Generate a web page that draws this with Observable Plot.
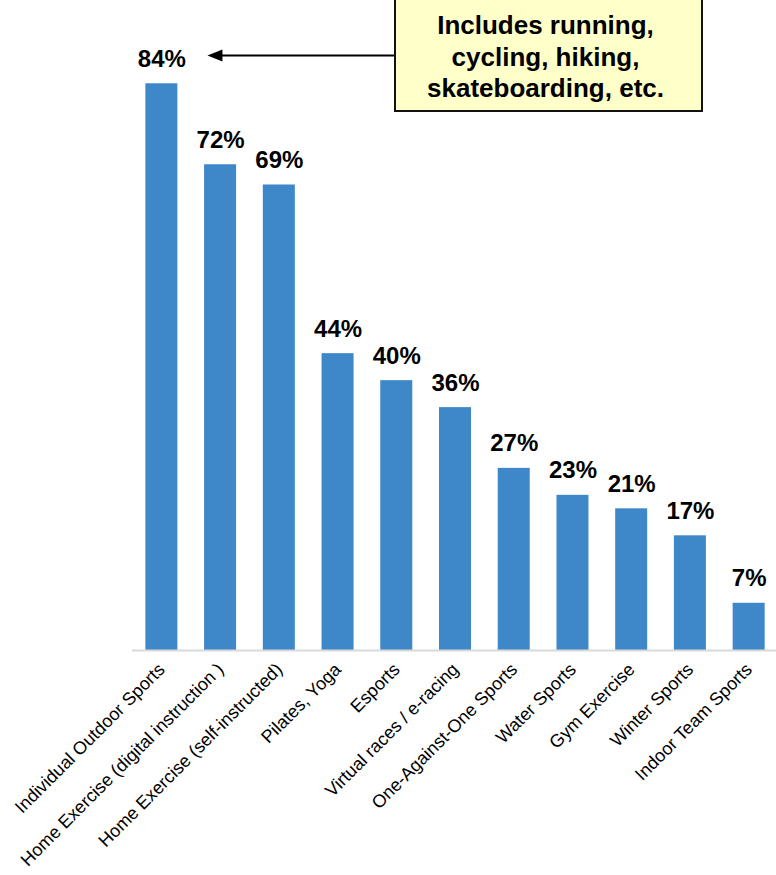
<!DOCTYPE html>
<html><head><meta charset="utf-8">
<script src="https://cdn.jsdelivr.net/npm/d3@7"></script>
<script src="https://cdn.jsdelivr.net/npm/@observablehq/plot@0.6"></script>
<style>
body{margin:0;background:#fff;font-family:"Liberation Sans",Arial,sans-serif;}
#wrap{position:relative;width:776px;height:875px;overflow:hidden;}
#wrap svg{position:absolute;left:0;top:0;}
#note{position:absolute;z-index:2;left:394px;top:-2px;width:309px;height:114px;box-sizing:border-box;border:2px solid #111;background:#ffffc9;font-weight:bold;font-size:26px;line-height:31.5px;text-align:center;padding-top:10px;padding-right:6px;color:#000;white-space:nowrap;}
</style></head><body>
<div id="wrap"><div id="note">Includes running,<br>cycling, hiking,<br>skateboarding, etc.</div></div>
<script>
const categories = [
  "Individual Outdoor Sports",
  "Home Exercise (digital instruction )",
  "Home Exercise (self-instructed)",
  "Pilates, Yoga",
  "Esports",
  "Virtual races / e-racing",
  "One-Against-One Sports",
  "Water Sports",
  "Gym Exercise",
  "Winter Sports",
  "Indoor Team Sports"
];
const values = [84, 72, 69, 44, 40, 36, 27, 23, 21, 17, 7];
const valueLabels = values.map(v => v + "%");

const arrowTarget = categories[0];
const arrowSource = categories[4];
const arrowLevel = 88.2;

const data = categories.map((c, i) => ({category: c, value: values[i], label: valueLabels[i]}));
const arrowData = [{x1: arrowSource, x2: arrowTarget, y: arrowLevel}];

const leftTriangle = {
  draw(ctx) {
    ctx.moveTo(0, 0);
    ctx.lineTo(15, -6);
    ctx.lineTo(15, 6);
    ctx.closePath();
  }
};

const chart = Plot.plot({
  width: 776,
  height: 875,
  marginLeft: 132,
  marginRight: 0,
  marginTop: 0,
  marginBottom: 225,
  style: {fontFamily: "'Liberation Sans', Arial, sans-serif", fontSize: "18px", color: "#000", background: "transparent", overflow: "visible"},
  x: {domain: categories, range: [132, 778], paddingInner: 0.455, paddingOuter: 0.2275, round: false, label: null},
  y: {domain: [0, 84], range: [650, 83.3], axis: null},
  marks: [
    Plot.barY(data, {x: "category", y: "value", fill: "#3e87c9"}),
    Plot.ruleY([0], {stroke: "#d9d9d9", strokeWidth: 2}),
    Plot.text(data, {x: "category", y: "value", text: "label", dy: -17, lineAnchor: "bottom", fontSize: 24, fontWeight: "bold", fill: "#000"}),
    Plot.axisX({tickRotate: -45, tickSize: 0, tickPadding: 16, fontSize: 18, label: null, fill: "#000"}),
    Plot.arrow(arrowData, {x1: "x1", x2: "x2", y1: "y", y2: "y", headLength: 0, insetEnd: 50, insetStart: 0, stroke: "#000", strokeWidth: 2}),
    Plot.dot(arrowData, {x: "x2", y: "y", dx: 45.6, symbol: leftTriangle, r: 6, fill: "#000", stroke: "none"})
  ]
});
document.getElementById("wrap").appendChild(chart);
</script>
</body></html>
